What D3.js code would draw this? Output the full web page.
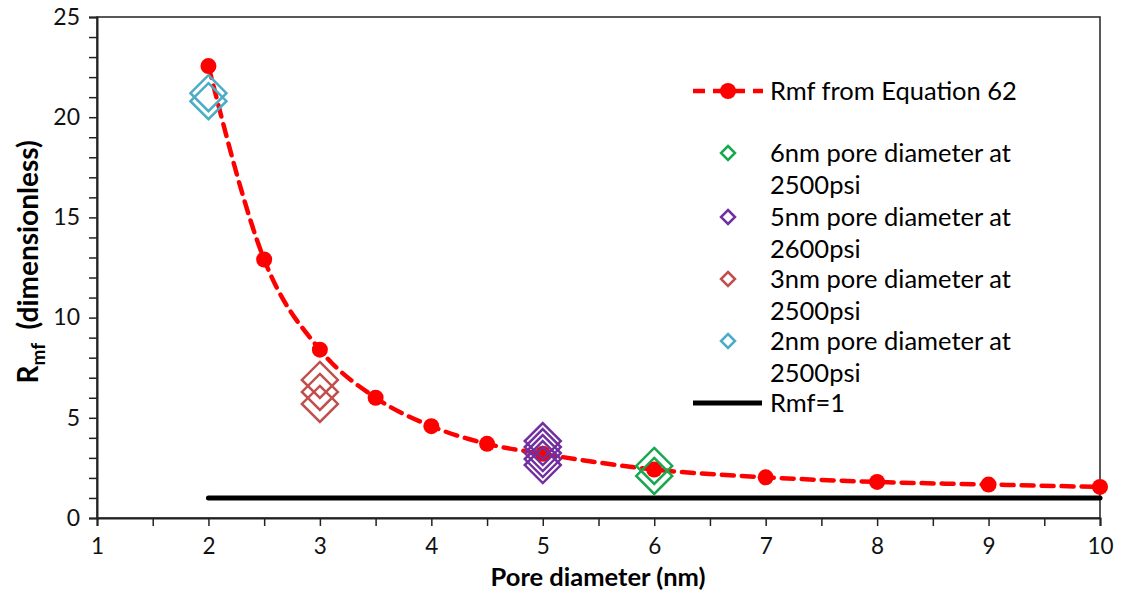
<!DOCTYPE html>
<html lang="en">
<head>
<meta charset="utf-8">
<title>Rmf vs pore diameter</title>
<script src="https://d3js.org/d3.v7.min.js"></script>
<style>
  body { margin: 0; background: #fff; }
  text { font-family: Lato, "Liberation Sans", sans-serif; }
</style>
</head>
<body>
<script>
// curve from Equation 62
var poreDiameters = [2, 2.5, 3, 3.5, 4, 4.5, 5, 6, 7, 8, 9, 10];
var rmfValues = [22.55, 12.9, 8.4, 6.0, 4.58, 3.7, 3.2, 2.42, 2.03, 1.8, 1.67, 1.55];

// measured points (diamonds)
var seriesNames = ["6nm pore diameter at\n2500psi", "5nm pore diameter at\n2600psi",
                   "3nm pore diameter at\n2500psi", "2nm pore diameter at\n2500psi"];
var seriesColors = ["#18a84e", "#7030a0", "#c0504d", "#4bacc6"];
var seriesX = [6, 5, 3, 2];
var seriesValues = [
  [2.6, 2.1],
  [3.84, 3.54, 3.24, 2.94, 2.64],
  [6.89, 6.29, 5.69],
  [21.2, 20.8]
];

var refLineX = [2, 10];
var refLineY = [1, 1];

var xTicks = [1, 2, 3, 4, 5, 6, 7, 8, 9, 10];
var yTicks = [0, 5, 10, 15, 20, 25];

var w = 1122, h = 592;
var margin = {top: 17, right: 22, bottom: 74, left: 97};

var svg = d3.select("body").append("svg")
  .attr("width", w)
  .attr("height", h);

var xScale = d3.scaleLinear().domain([1, 10]).range([margin.left, w - margin.right]);
var yScale = d3.scaleLinear().domain([0, 25]).range([h - margin.bottom, margin.top]);

// plot frame
svg.append("rect")
  .attr("x", xScale(1))
  .attr("y", yScale(25))
  .attr("width", xScale(10) - xScale(1))
  .attr("height", yScale(0) - yScale(25))
  .attr("fill", "none")
  .attr("stroke", "#222")
  .attr("stroke-width", 1.5);

// x axis: majors with labels, halves as minor ticks
var xAxis = svg.append("g")
  .attr("transform", "translate(0," + yScale(0) + ")")
  .call(d3.axisBottom(xScale).tickValues(d3.range(1, 10.01, 0.5)).tickSize(8)
        .tickFormat(function(d) { return xTicks.indexOf(d) >= 0 ? d : ""; }));
xAxis.select(".domain").attr("stroke", "#222").attr("stroke-width", 2);
xAxis.selectAll(".tick line").attr("stroke", "#222").attr("stroke-width", 1.5);
xAxis.selectAll(".tick text")
  .attr("y", 20)
  .attr("font-size", 22.5)
  .attr("fill", "#111")
  .style("font-family", "Lato, sans-serif");

// y axis: majors every 5, minor every 1
var yAxis = svg.append("g")
  .attr("transform", "translate(" + xScale(1) + ",0)")
  .call(d3.axisLeft(yScale).tickValues(d3.range(0, 25.01, 1)).tickSize(8)
        .tickFormat(function(d) { return yTicks.indexOf(d) >= 0 ? d : ""; }));
yAxis.select(".domain").attr("stroke", "#222").attr("stroke-width", 2);
yAxis.selectAll(".tick line").attr("stroke", "#222").attr("stroke-width", 1.5);
yAxis.selectAll(".tick text")
  .attr("x", -17)
  .attr("font-size", 23)
  .attr("fill", "#111")
  .style("font-family", "Lato, sans-serif");

// Rmf = 1 reference line
svg.append("line")
  .attr("x1", xScale(refLineX[0]))
  .attr("x2", xScale(refLineX[1]))
  .attr("y1", yScale(refLineY[0]))
  .attr("y2", yScale(refLineY[1]))
  .attr("stroke", "#000")
  .attr("stroke-width", 5)
  .attr("stroke-linecap", "round");

// dashed curve
var line = d3.line()
  .x(function(d, i) { return xScale(poreDiameters[i]); })
  .y(function(d) { return yScale(d); })
  .curve(d3.curveMonotoneX);

svg.append("path")
  .datum(rmfValues)
  .attr("d", line)
  .attr("fill", "none")
  .attr("stroke", "#ff0000")
  .attr("stroke-width", 4.5)
  .attr("stroke-dasharray", "12,8")
  .attr("stroke-linecap", "round");

svg.append("g").selectAll("circle")
  .data(rmfValues)
  .join("circle")
  .attr("cx", function(d, i) { return xScale(poreDiameters[i]); })
  .attr("cy", function(d) { return yScale(d); })
  .attr("r", 8)
  .attr("fill", "#ff0000");

// diamonds
function diamond(s) {
  return "M0," + (-s) + "L" + s + ",0L0," + s + "L" + (-s) + ",0Z";
}
seriesValues.forEach(function(vals, k) {
  svg.append("g").selectAll("path")
    .data(vals)
    .join("path")
    .attr("d", diamond(18))
    .attr("transform", function(d) { return "translate(" + xScale(seriesX[k]) + "," + yScale(d) + ")"; })
    .attr("fill", "none")
    .attr("stroke", seriesColors[k])
    .attr("stroke-width", 2.5);
});

// legend
var legend = svg.append("g");
var lx = 693, tx = 770, fs = 25.5;

legend.append("line")
  .attr("x1", lx).attr("x2", lx + 70).attr("y1", 91).attr("y2", 91)
  .attr("stroke", "#ff0000").attr("stroke-width", 4.5)
  .attr("stroke-dasharray", "12,8");
legend.append("circle").attr("cx", 728).attr("cy", 91).attr("r", 8).attr("fill", "#ff0000");
legend.append("text").attr("x", tx).attr("y", 100).attr("font-size", fs).text("Rmf from Equation 62");

var rowY = [153, 217, 279, 341];
seriesNames.forEach(function(name, k) {
  legend.append("path")
    .attr("d", diamond(7))
    .attr("transform", "translate(728," + rowY[k] + ")")
    .attr("fill", "none")
    .attr("stroke", seriesColors[k])
    .attr("stroke-width", 2.5);
  name.split("\n").forEach(function(part, j) {
    legend.append("text")
      .attr("x", tx)
      .attr("y", rowY[k] + 9 + j * 32)
      .attr("font-size", fs)
      .text(part);
  });
});

legend.append("line")
  .attr("x1", lx).attr("x2", lx + 69).attr("y1", 403).attr("y2", 403)
  .attr("stroke", "#000").attr("stroke-width", 5);
legend.append("text").attr("x", tx).attr("y", 412).attr("font-size", fs).text("Rmf=1");

// axis titles
svg.append("text")
  .attr("x", 598)
  .attr("y", 586)
  .attr("text-anchor", "middle")
  .attr("font-size", 25.5)
  .attr("font-weight", "bold")
  .text("Pore diameter (nm)");

var yTitle = svg.append("text")
  .attr("transform", "translate(38,262) rotate(-90)")
  .attr("text-anchor", "middle")
  .attr("font-size", 28)
  .attr("font-weight", "bold");
yTitle.append("tspan").text("R");
yTitle.append("tspan").attr("font-size", 19).attr("dy", 7).text("mf");
yTitle.append("tspan").attr("dy", -7).text("\u00a0 (dimensionless)");
</script>
</body>
</html>
